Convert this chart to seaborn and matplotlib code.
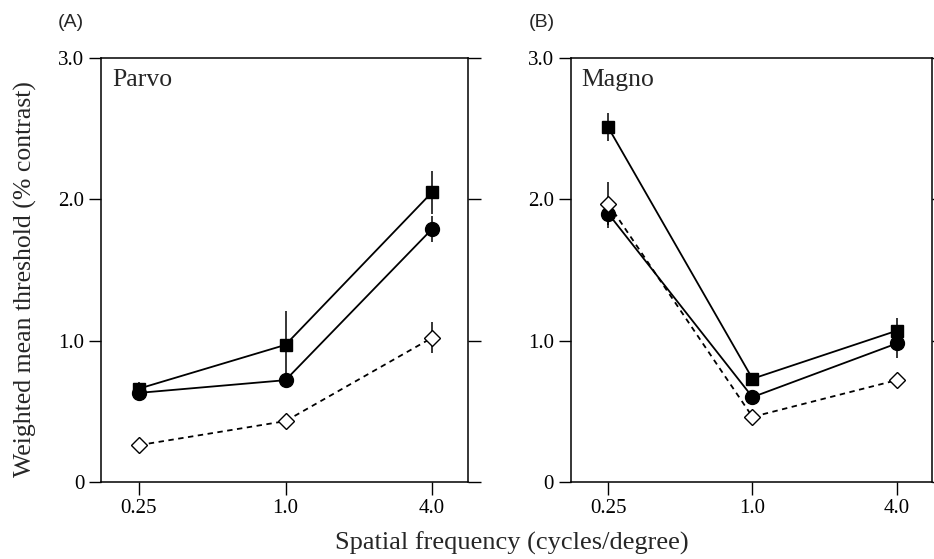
import numpy as np
import pandas as pd
import seaborn as sns
import matplotlib.pyplot as plt

sns.set_theme(style="ticks")
plt.rcParams['font.family'] = ['Liberation Serif', 'DejaVu Serif']

# data
freq = [0.25, 1.0, 4.0]
freq_labels = ["0.25", "1.0", "4.0"]

parvo_square = [0.66, 0.97, 2.05]
parvo_circle = [0.63, 0.72, 1.79]
parvo_diamond = [0.26, 0.43, 1.02]
parvo_square_err = [0.05, 0.24, 0.15]
parvo_circle_err = [0.06, 0.04, 0.09]
parvo_diamond_err = [0.03, 0.03, 0.11]

magno_square = [2.51, 0.73, 1.07]
magno_circle = [1.90, 0.60, 0.98]
magno_diamond = [1.97, 0.46, 0.72]
magno_square_err = [0.10, 0.04, 0.09]
magno_circle_err = [0.10, 0.04, 0.10]
magno_diamond_err = [0.15, 0.03, 0.03]

panels = [
    ("(A)", "Parvo", [parvo_square, parvo_circle, parvo_diamond],
     [parvo_square_err, parvo_circle_err, parvo_diamond_err]),
    ("(B)", "Magno", [magno_square, magno_circle, magno_diamond],
     [magno_square_err, magno_circle_err, magno_diamond_err]),
]

styles = [
    dict(marker="s", markersize=9, markerfacecolor="black", linestyle="-"),
    dict(marker="o", markersize=10, markerfacecolor="black", linestyle="-"),
    dict(marker="D", markersize=8, markerfacecolor="white", linestyle=(0, (3, 2.5))),
]

fig = plt.figure(figsize=(9.34, 5.59), dpi=100)
axes = [fig.add_axes([0.108, 0.138, 0.393, 0.758]),
        fig.add_axes([0.611, 0.138, 0.387, 0.758])]

for ax, (tag, name, series, errs) in zip(axes, panels):
    for vals, err, st in zip(series, errs, styles):
        ax.errorbar(freq, vals, yerr=err, fmt="none", ecolor="black",
                    elinewidth=1.1, capsize=0, zorder=2)
        df = pd.DataFrame({"freq": freq, "val": vals})
        sns.lineplot(data=df, x="freq", y="val", ax=ax, color="black",
                     linewidth=1.3, markeredgecolor="black",
                     markeredgewidth=1.0, zorder=3, **st)
    ax.set_xscale("log", base=2)
    ax.set_xlim(0.25 * 2 ** -0.52, 4 * 2 ** 0.49)
    ax.set_ylim(0, 3)
    ax.set_xticks(freq)
    ax.set_xticklabels(freq_labels)
    ax.minorticks_off()
    ax.set_yticks([0, 1, 2, 3])
    ax.set_yticklabels(["0", "1.0", "2.0", "3.0"])
    ax.tick_params(axis="both", direction="out", length=9, width=1.0,
                   labelsize=15, colors="black", pad=3)
    ax.tick_params(axis="y", right=True)
    ax.set_xlabel("")
    ax.set_ylabel("")
    for sp in ax.spines.values():
        sp.set_visible(True)
        sp.set_linewidth(1.1)
        sp.set_color("black")
    ax.text(0.03, 0.975, name, transform=ax.transAxes, ha="left", va="top",
            fontsize=18.5)
    ax.text(-0.045, 1.065, tag, transform=ax.transAxes, ha="right", va="bottom",
            fontsize=14, family=["Liberation Sans", "DejaVu Sans"])

fig.text(0.027, 0.50, "Weighted mean threshold (% contrast)", rotation=90,
         ha="center", va="center", fontsize=18.5)
fig.text(0.548, 0.028, "Spatial frequency (cycles/degree)", ha="center",
         va="center", fontsize=19)

fig.savefig("out.png", dpi=100)
